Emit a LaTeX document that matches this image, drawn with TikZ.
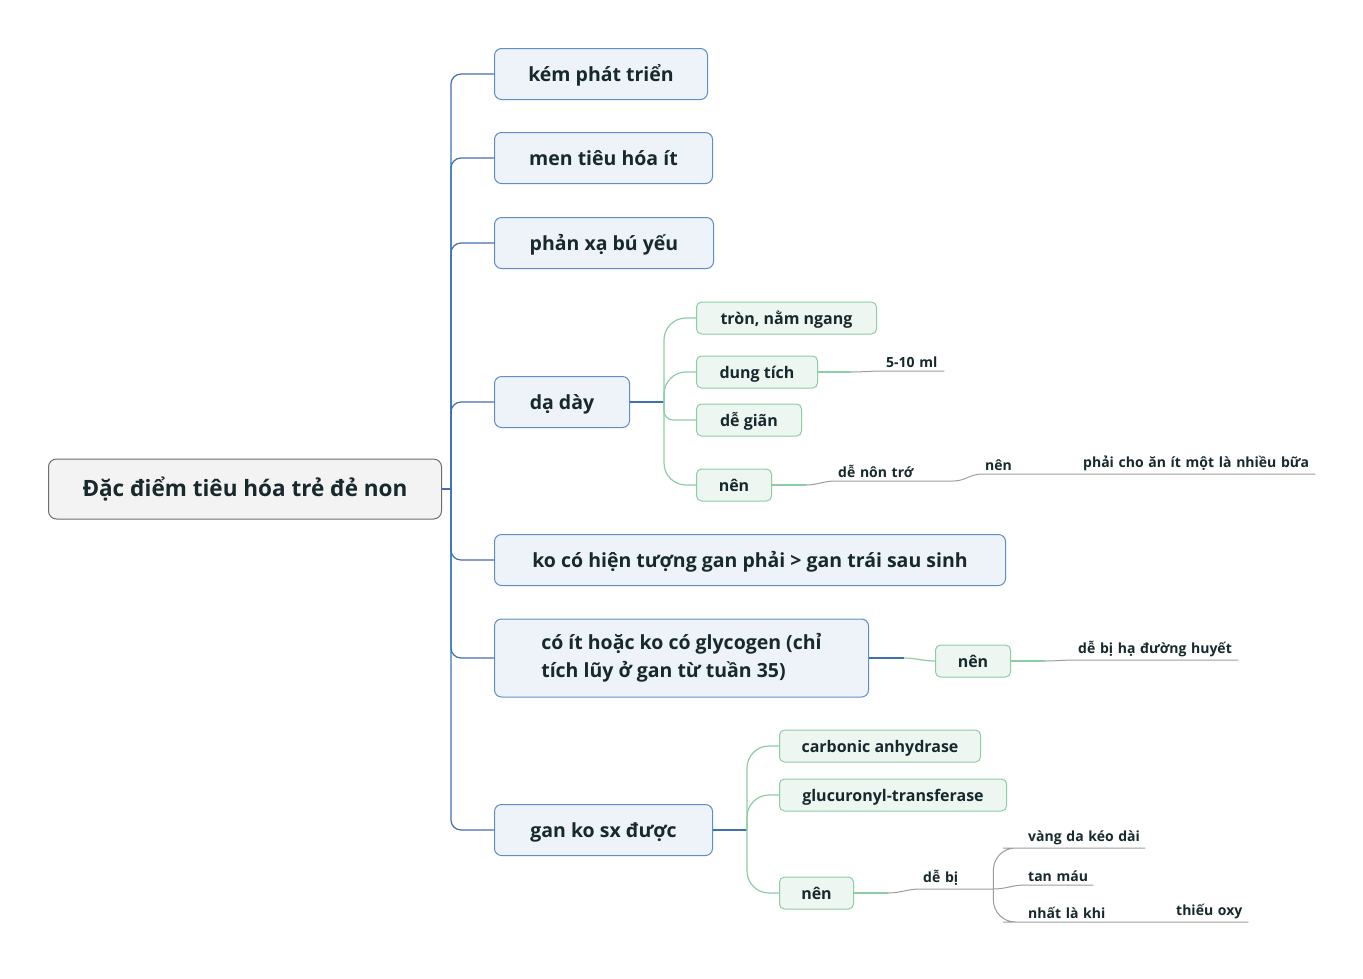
\documentclass[tikz,border=0pt]{standalone}
\usepackage{fontspec}
\setmainfont{Open Sans}
\usetikzlibrary{positioning}
\definecolor{bluelink}{HTML}{3F70B2}
\definecolor{bluebox}{HTML}{5E8DC9}
\definecolor{bluefill}{HTML}{EEF3FA}
\definecolor{greenbox}{HTML}{8DCDA6}
\definecolor{greenfill}{HTML}{EEF6F1}
\definecolor{greylink}{HTML}{9C9C9C}
\definecolor{rootbox}{HTML}{6E6E6E}
\definecolor{rootfill}{HTML}{F3F3F3}
\definecolor{ink}{HTML}{17292C}
\tikzset{
  root/.style={draw=rootbox, fill=rootfill, line width=1pt, rounded corners=8,
    minimum width=393, minimum height=60, text=ink,
    text height=20pt, text depth=5pt,
    font=\bfseries\fontsize{22.5}{27}\selectfont},
  topic/.style={draw=bluebox, fill=bluefill, line width=1pt, rounded corners=7,
    anchor=west, minimum height=51, align=left, text=ink,
    text height=18pt, text depth=3pt,
    font=\bfseries\fontsize{19.5}{28}\selectfont},
  sub/.style={draw=greenbox, fill=greenfill, line width=1pt, rounded corners=5,
    anchor=west, minimum height=32, text=ink,
    text height=15pt, text depth=3pt,
    font=\bfseries\fontsize{16}{19}\selectfont},
  tag/.style={anchor=south west, inner xsep=3, inner ysep=3, text width=#1,
    align=left, text=ink, font=\bfseries\fontsize{14}{17}\selectfont},
  bline/.style={draw=bluelink, line width=1.2pt, rounded corners=10},
  gline/.style={draw=greenbox, line width=1.2pt, rounded corners=22},
  nline/.style={draw=greylink, line width=1pt}
}
\begin{document}
\begin{tikzpicture}[x=1pt, y=-1pt]
  \fill[white] (0,0) rectangle (1363,978);
  \useasboundingbox (0,0) rectangle (1363,978);

  % main topic and first level
  \node[root] (root) at (245,489) {Đặc điểm tiêu hóa trẻ đẻ non};
  \node[topic, minimum width=213] (t1) at (494,74) {kém phát triển};
  \node[topic, minimum width=218] (t2) at (494,158) {men tiêu hóa ít};
  \node[topic, minimum width=219] (t3) at (494,243) {phản xạ bú yếu};
  \node[topic, minimum width=135] (t4) at (494,402) {dạ dày};
  \node[topic, minimum width=511] (t5) at (494,560) {ko có hiện tượng gan phải > gan trái sau sinh};
  \node[topic, minimum width=374, minimum height=78, text height=, text depth=] (t6) at (494,658)
    {có ít hoặc ko có glycogen (chỉ\\tích lũy ở gan từ tuần 35)};
  \node[topic, minimum width=218] (t7) at (494,830) {gan ko sx được};

  \coordinate (trunk) at (451,489);
  \draw[bline] (root.east) -- (trunk);
  \foreach \t in {t1,t2,t3,t4,t5,t6,t7}
    \draw[bline] (trunk) |- (\t.west);

  % da day
  \node[sub, minimum width=180] (s1) at (696,318) {tròn, nằm ngang};
  \node[sub, minimum width=121] (s2) at (696,372) {dung tích};
  \node[sub, minimum width=105] (s3) at (696,420) {dễ giãn};
  \node[sub, minimum width=75] (s4) at (696,485) {nên};
  \draw[bline] (t4.east) -- ++(34,0) coordinate (f4);
  \draw[gline] (f4) |- (s1.west);
  \draw[gline] (f4) |- (s2.west);
  \draw[gline, rounded corners=9] (f4) |- (s3.west);
  \draw[gline] (f4) |- (s4.west);

  \node[tag=55] (g1) at (883,371) {5-10 ml};
  \draw[gline] (s2.east) -- ++(33,0) coordinate (c2);
  \draw[nline] (c2) to[out=0, in=180] (g1.south west) -- (g1.south east);

  \node[tag=112] (g2) at (835,481) {dễ nôn trớ};
  \node[tag=68] (g3) at (982,474) {nên};
  \node[tag=229] (g4) at (1080,474) {phải cho ăn ít một là nhiều bữa};
  \draw[gline] (s4.east) -- ++(34,0) coordinate (c4);
  \draw[nline] (c4) to[out=0, in=180] (g2.south west) -- (g2.south east);
  \draw[nline] (g2.south east) to[out=0, in=180] (g3.south west) -- (g3.south east)
    -- (g4.south west) -- (g4.south east);

  % glycogen
  \node[sub, minimum width=75] (s5) at (935,661) {nên};
  \node[tag=157] (g5) at (1075,660) {dễ bị hạ đường huyết};
  \draw[bline] (t6.east) -- ++(35,0) coordinate (c6);
  \draw[gline] (c6) to[out=0, in=180] (s5.west);
  \draw[gline] (s5.east) -- ++(34,0) coordinate (c5);
  \draw[nline] (c5) to[out=0, in=180] (g5.south west) -- (g5.south east);

  % gan
  \node[sub, minimum width=201] (s6) at (779,746) {carbonic anhydrase};
  \node[sub, minimum width=227] (s7) at (779,795) {glucuronyl-transferase};
  \node[sub, minimum width=74] (s8) at (779,893) {nên};
  \draw[bline] (t7.east) -- ++(34,0) coordinate (f7);
  \foreach \s in {s6,s7,s8}
    \draw[gline] (f7) |- (\s.west);

  \node[tag=67] (g6) at (920,889) {dễ bị};
  \node[tag=114] (g7) at (1025,848) {vàng da kéo dài};
  \node[tag=62] (g8) at (1025,885) {tan máu};
  \node[tag=111] (g9) at (1025,922) {nhất là khi};
  \node[tag=69] (g10) at (1173,922) {thiếu oxy};
  \draw[gline] (s8.east) -- ++(34,0) coordinate (c8);
  \draw[nline] (c8) to[out=0, in=180] (g6.south west) -- (g6.south east);
  \draw[nline, rounded corners=22] (g6.south east) |- (g7.south west) -- (g7.south east);
  \draw[nline] (g6.south east) to[out=0, in=180] (g8.south west) -- (g8.south east);
  \draw[nline, rounded corners=22] (g6.south east) |- (g9.south west) -- (g9.south east)
    -- (g10.south west) -- (g10.south east);
\end{tikzpicture}
\end{document}
